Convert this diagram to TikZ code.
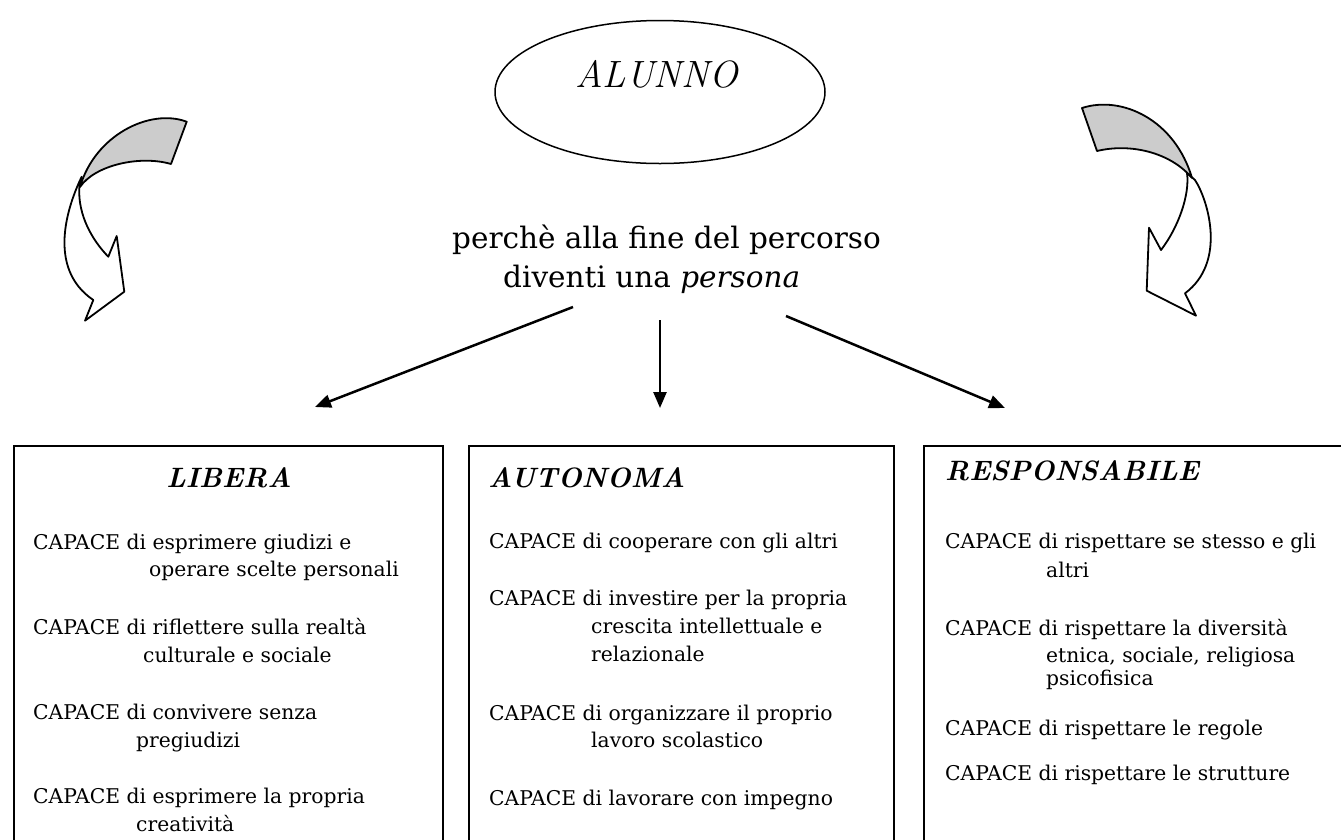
\documentclass[tikz,border=0pt]{standalone}
\usepackage{fontspec}
\usetikzlibrary{shapes.geometric,arrows.meta}
\newfontfamily\bodyfont{DejaVu Serif}
\begin{document}
\begin{tikzpicture}[x=1pt,y=-1pt,
  txt/.style={anchor=base west, inner sep=0pt, font=\bodyfont\fontsize{20.3}{24}\selectfont},
  bigtxt/.style={anchor=base west, inner sep=0pt, font=\bodyfont\fontsize{29.5}{34}\selectfont},
  head/.style={anchor=base west, inner sep=0pt, font=\fontsize{28}{33}\selectfont\bfseries\itshape},
  boxst/.style={draw, line width=2.3pt, anchor=north west, inner sep=0pt, minimum height=460pt},
  link/.style={line width=2.5pt, -{Triangle[length=16pt,width=13pt]}},
  curv/.style={line width=1.8pt, line join=round}]
\useasboundingbox (0,0) rectangle (1341,839);
\clip (0,0) rectangle (1341,839);

% top ellipse
\node[ellipse, draw, line width=1.5pt, minimum width=330pt, minimum height=143pt, inner sep=0pt] (alunno) at (660,92) {};
\node[anchor=base west, inner sep=0pt, font=\fontsize{38}{44}\selectfont\itshape] (alunnotxt) at (575,87) {ALUNNO};

% central text
\node[bigtxt] (perche1) at (452,248) {perchè alla fine del percorso};
\node[bigtxt] (perche2) at (503,287) {diventi una \textit{persona}};

% curved arrow left
\filldraw[curv, fill=white] (81.7,176.7) .. controls (68,205) and (46,268) .. (93.3,300) -- (85,320.7) -- (124.3,291.7) -- (116.7,236) -- (108.3,256.7) .. controls (92,240) and (78,215) .. (79.3,188.3) -- cycle;
\filldraw[curv, fill=gray!40] (186.7,121.7) .. controls (150,108) and (95,135) .. (80,187) .. controls (95,165) and (140,155) .. (171,164) -- cycle;

% curved arrow right
\filldraw[curv, fill=white] (1195,180) .. controls (1208,200) and (1227,262) .. (1185,293.3) -- (1196,315.7) -- (1146.7,290.7) -- (1149,227.7) -- (1161,250) .. controls (1178,228) and (1190,195) .. (1187,173) -- cycle;
\filldraw[curv, fill=gray!40] (1082,108) .. controls (1122,95) and (1175,120) .. (1192,178) .. controls (1170,152) and (1130,143) .. (1097,151) -- cycle;

% connectors
\coordinate (sL) at (573,307);
\coordinate (eL) at (315,407);
\coordinate (sM) at (660,320);
\coordinate (eM) at (660,408);
\coordinate (sR) at (786,316);
\coordinate (eR) at (1005,408);
\draw[link] (sL) -- (eL);
\draw[link] (sM) -- (eM);
\draw[link] (sR) -- (eR);

% boxes
\node[boxst, minimum width=429pt] (boxL) at (13,445) {};
\node[boxst, minimum width=425pt] (boxM) at (468,445) {};
\node[boxst, minimum width=440pt] (boxR) at (923,445) {};

% left box
\node[head, anchor=base] (libera) at (229,487) {LIBERA};
\node[txt] (l1a) at (33,549) {CAPACE di esprimere giudizi e};
\node[txt] (l1b) at (149,576) {operare scelte personali};
\node[txt] (l2a) at (33,634) {CAPACE di riflettere sulla realtà};
\node[txt] (l2b) at (143,662) {culturale e sociale};
\node[txt] (l3a) at (33,719) {CAPACE di convivere senza};
\node[txt] (l3b) at (136,747) {pregiudizi};
\node[txt] (l4a) at (33,803) {CAPACE di esprimere la propria};
\node[txt] (l4b) at (136,831) {creatività};

% middle box
\node[head] (autonoma) at (488,487) {AUTONOMA};
\node[txt] (m1) at (489,548) {CAPACE di cooperare con gli altri};
\node[txt] (m2a) at (489,605) {CAPACE di investire per la propria};
\node[txt] (m2b) at (591,633) {crescita intellettuale e};
\node[txt] (m2c) at (591,661) {relazionale};
\node[txt] (m3a) at (489,720) {CAPACE di organizzare il proprio};
\node[txt] (m3b) at (591,747) {lavoro scolastico};
\node[txt] (m4) at (489,805) {CAPACE di lavorare con impegno};

% right box
\node[head] (respons) at (945,480) {RESPONSABILE};
\node[txt] (r1a) at (945,548) {CAPACE di rispettare se stesso e gli};
\node[txt] (r1b) at (1046,577) {altri};
\node[txt] (r2a) at (945,635) {CAPACE di rispettare la diversità};
\node[txt] (r2b) at (1046,662) {etnica, sociale, religiosa};
\node[txt] (r2c) at (1046,685) {psicofisica};
\node[txt] (r3) at (945,735) {CAPACE di rispettare le regole};
\node[txt] (r4) at (945,780) {CAPACE di rispettare le strutture};
\end{tikzpicture}
\end{document}
